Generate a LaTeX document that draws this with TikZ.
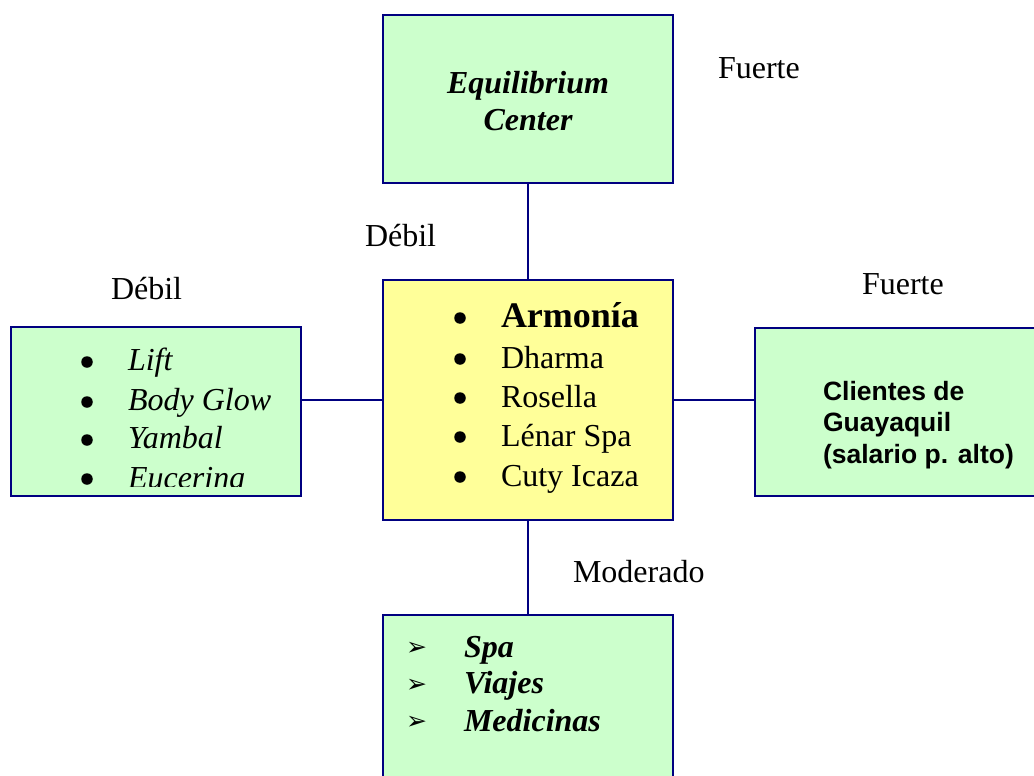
\documentclass[tikz,border=0pt]{standalone}
\usepackage{fontspec}
\setmainfont{Liberation Serif}
\newfontfamily\arialfont{Liberation Sans}
\newfontfamily\dingfont{DejaVu Sans}
\definecolor{boxgreen}{HTML}{CCFFCC}
\definecolor{boxyellow}{HTML}{FFFF99}
\definecolor{navyline}{HTML}{000080}
\begin{document}
\begin{tikzpicture}[x=1pt,y=-1pt,
  box/.style={draw=navyline, line width=2pt, rectangle, inner sep=0pt, outer sep=0pt, anchor=north west},
  gbox/.style={box, fill=boxgreen},
  ybox/.style={box, fill=boxyellow},
  link/.style={draw=navyline, line width=2pt},
  txt/.style={inner sep=0pt, outer sep=0pt, anchor=base west, font=\fontsize{32}{38}\selectfont},
  ctxt/.style={inner sep=0pt, outer sep=0pt, anchor=base, font=\fontsize{32}{38}\selectfont\bfseries\itshape},
  atxt/.style={inner sep=0pt, outer sep=0pt, anchor=base west, font=\fontsize{26.5}{31}\selectfont\arialfont\bfseries},
  dot/.style={circle, fill=black, inner sep=0pt, outer sep=0pt, minimum size=11.5pt},
  arr/.style={inner sep=0pt, outer sep=0pt, anchor=base west, font=\fontsize{25}{28}\selectfont\dingfont}]
\path[use as bounding box, clip] (0,0) rectangle (1034,776);
\fill[white] (0,0) rectangle (1034,776);

% boxes
\node[gbox, minimum width=290pt, minimum height=168pt] (top) at (383,15) {};
\node[ybox, minimum width=290pt, minimum height=240pt] (center) at (383,280) {};
\node[gbox, minimum width=290pt, minimum height=169pt] (left) at (11,327) {};
\node[gbox, minimum width=300pt, minimum height=168pt] (right) at (755,328) {};
\node[gbox, minimum width=290pt, minimum height=180pt] (bottom) at (383,615) {};

% connectors
\draw[link] (top.south) -- (center.north);
\draw[link] (center.south) -- (bottom.north);
\draw[link] (center.west) -- (left.east |- center.west);
\draw[link] (center.east) -- (right.west |- center.east);

% top box text
\node[ctxt] (t1) at (528,93) {Equilibrium};
\node[ctxt] (t2) at (528,130) {Center};

% center box text
\node[dot] (cb1) at (460,318) {};
\node[dot] (cb2) at (460,359) {};
\node[dot] (cb3) at (460,398) {};
\node[dot] (cb4) at (460,437) {};
\node[dot] (cb5) at (460,477) {};
\node[txt, font=\fontsize{36}{40}\selectfont\bfseries] (c1) at (501,327) {Armonía};
\node[txt] (c2) at (501,368) {Dharma};
\node[txt] (c3) at (501,407) {Rosella};
\node[txt] (c4) at (501,446) {Lénar Spa};
\node[txt] (c5) at (501,486) {Cuty Icaza};

% left box text (clipped by the box)
\begin{scope}
\clip (12,328) rectangle (300,486);
\node[dot] (lb1) at (87,362) {};
\node[dot] (lb2) at (87,402) {};
\node[dot] (lb3) at (87,440) {};
\node[dot] (lb4) at (87,479) {};
\node[txt, font=\fontsize{32}{38}\selectfont\itshape] (l1) at (128,370) {Lift};
\node[txt, font=\fontsize{32}{38}\selectfont\itshape] (l2) at (128,410) {Body Glow};
\node[txt, font=\fontsize{32}{38}\selectfont\itshape] (l3) at (128,448) {Yambal};
\node[txt, font=\fontsize{32}{38}\selectfont\itshape] (l4) at (128,488) {Eucerina};
\end{scope}

% right box text
\node[atxt] (r1) at (823,400) {Clientes de};
\node[atxt] (r2) at (823,431) {Guayaquil};
\node[atxt] (r3) at (823,463) {(salario p. alto)};

% bottom box text
\node[arr] (ba1) at (406,655) {➢};
\node[arr] (ba2) at (406,692) {➢};
\node[arr] (ba3) at (406,729) {➢};
\node[txt, font=\fontsize{32}{38}\selectfont\bfseries\itshape] (b1) at (464,657) {Spa};
\node[txt, font=\fontsize{32}{38}\selectfont\bfseries\itshape] (b2) at (464,693) {Viajes};
\node[txt, font=\fontsize{32}{38}\selectfont\bfseries\itshape] (b3) at (464,731) {Medicinas};

% labels
\node[txt] (lab1) at (718,78) {Fuerte};
\node[txt] (lab2) at (365,246) {Débil};
\node[txt] (lab3) at (111,299) {Débil};
\node[txt] (lab4) at (862,294) {Fuerte};
\node[txt] (lab5) at (573,582) {Moderado};
\end{tikzpicture}
\end{document}
